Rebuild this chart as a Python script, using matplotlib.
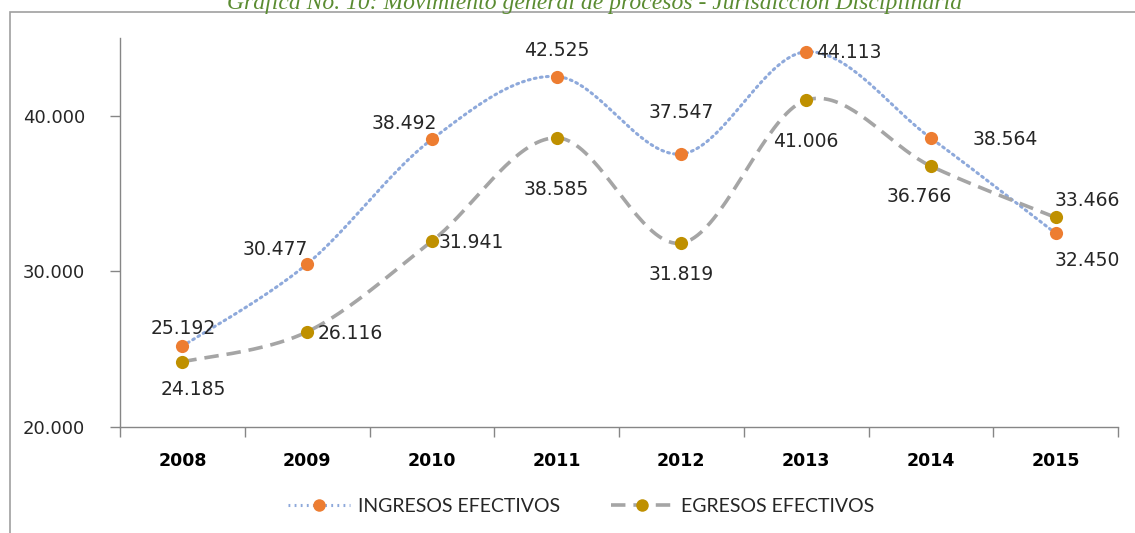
import numpy as np
import matplotlib.pyplot as plt
from matplotlib.patches import Rectangle
from matplotlib.lines import Line2D

# chart data
years = ['2008', '2009', '2010', '2011', '2012', '2013', '2014', '2015']
ingresos = [25192, 30477, 38492, 42525, 37547, 44113, 38564, 32450]
egresos = [24185, 26116, 31941, 38585, 31819, 41006, 36766, 33466]
ingresos_labels = ['25.192', '30.477', '38.492', '42.525', '37.547', '44.113', '38.564', '32.450']
egresos_labels = ['24.185', '26.116', '31.941', '38.585', '31.819', '41.006', '36.766', '33.466']
ytick_vals = [20000, 30000, 40000]
ytick_labels = ['20.000', '30.000', '40.000']

title = 'Gráfica No. 10: Movimiento general de procesos - Jurisdicción Disciplinaria'


def smooth_curve(x, y, n=40):
    """Catmull-Rom style bezier smoothing (like Excel smoothed lines)."""
    x = np.asarray(x, float)
    y = np.asarray(y, float)
    px = np.concatenate([[x[0]], x, [x[-1]]])
    py = np.concatenate([[y[0]], y, [y[-1]]])
    xs, ys = [], []
    t = np.linspace(0, 1, n)
    for i in range(1, len(px) - 2):
        p0 = np.array([px[i], py[i]])
        p3 = np.array([px[i + 1], py[i + 1]])
        p1 = p0 + (np.array([px[i + 1], py[i + 1]]) - np.array([px[i - 1], py[i - 1]])) / 6
        p2 = p3 - (np.array([px[i + 2], py[i + 2]]) - np.array([px[i], py[i]])) / 6
        b = ((1 - t) ** 3)[:, None] * p0 + (3 * (1 - t) ** 2 * t)[:, None] * p1 \
            + (3 * (1 - t) * t ** 2)[:, None] * p2 + (t ** 3)[:, None] * p3
        xs.extend(b[:, 0])
        ys.extend(b[:, 1])
    return np.array(xs), np.array(ys)


ORANGE = '#ED7D31'
GOLD = '#BF9000'
BLUE_LINE = '#8EA9DB'
GREY_LINE = '#A5A5A5'
AXIS = '#868686'
TXT = '#262626'

fig = plt.figure(figsize=(11.35, 5.33), dpi=100)
ax = fig.add_axes([120 / 1135, 1 - 427 / 533, (1118 - 120) / 1135, (427 - 38) / 533])

# outer frame and title (clipped at the top, as in the source)
fig.patches.append(Rectangle((10 / 1135, -0.1), 1.2, 1 - 12 / 533 + 0.1,
                             transform=fig.transFigure, fill=False,
                             edgecolor='#A0A0A0', linewidth=1.2))
fig.text(595 / 1135, 1 - 9 / 533, title, ha='center', va='baseline',
         fontsize=17, style='italic', family='Liberation Serif', color='#5B8C32')

x = np.arange(len(years))

xi, yi = smooth_curve(x, ingresos)
xe, ye = smooth_curve(x, egresos)
ax.plot(xi, yi, linestyle=(0, (0.6, 1.4)), color=BLUE_LINE, linewidth=2.2,
        dash_capstyle='round', zorder=2)
ax.plot(xe, ye, linestyle=(0, (4, 2.2)), color=GREY_LINE, linewidth=2.6, zorder=2)
ax.scatter(x, ingresos, color=ORANGE, s=90, zorder=3, linewidths=0)
ax.scatter(x, egresos, color=GOLD, s=90, zorder=3, linewidths=0)

# label offsets in pixels (dx, dy)
ing_off = [(1, 18), (-32, 14), (-28, 16), (0, 26), (0, 41), (43, -1), (74, -1), (32, -27)]
egr_off = [(11, -28), (43, -2), (39, -1), (0, -52), (0, -31), (0, -41), (-12, -30), (32, 17)]
for i in range(len(years)):
    ax.annotate(ingresos_labels[i], (x[i], ingresos[i]), xytext=ing_off[i],
                textcoords='offset pixels', ha='center', va='center',
                fontsize=13.5, color=TXT)
    ax.annotate(egresos_labels[i], (x[i], egresos[i]), xytext=egr_off[i],
                textcoords='offset pixels', ha='center', va='center',
                fontsize=13.5, color=TXT)

ax.set_xlim(-0.5, len(years) - 0.5)
ax.set_ylim(20000, 45000)
ax.set_yticks(ytick_vals)
ax.set_yticklabels(ytick_labels, fontsize=13, color=TXT)
ax.set_xticks(x)
ax.set_xticklabels(years, fontsize=12.5, fontweight='bold', color='black')
ax.set_xticks(np.arange(-0.5, len(years)), minor=True)
ax.tick_params(axis='x', which='major', length=0, pad=18)
ax.tick_params(axis='x', which='minor', length=7, color=AXIS, width=1)
ax.tick_params(axis='y', length=7, color=AXIS, width=1, pad=18)

for s in ['top', 'right']:
    ax.spines[s].set_visible(False)
for s in ['left', 'bottom']:
    ax.spines[s].set_color(AXIS)
    ax.spines[s].set_linewidth(1)
ax.patch.set_alpha(0)

handles = [
    Line2D([], [], linestyle=(0, (0.6, 1.4)), color=BLUE_LINE, linewidth=2.2,
           marker='o', markersize=9, markerfacecolor=ORANGE, markeredgewidth=0),
    Line2D([], [], linestyle=(0, (4, 2.2)), color=GREY_LINE, linewidth=2.6,
           marker='o', markersize=9, markerfacecolor=GOLD, markeredgewidth=0),
]
fig.legend(handles, ['INGRESOS EFECTIVOS', 'EGRESOS EFECTIVOS'],
           loc='center', bbox_to_anchor=(581 / 1135, 1 - 506 / 533), ncol=2,
           frameon=False, prop={'family': 'Lato', 'size': 14},
           handlelength=3.2, handletextpad=0.4, columnspacing=2.6, labelcolor=TXT)

fig.savefig('out.png', dpi=100)
